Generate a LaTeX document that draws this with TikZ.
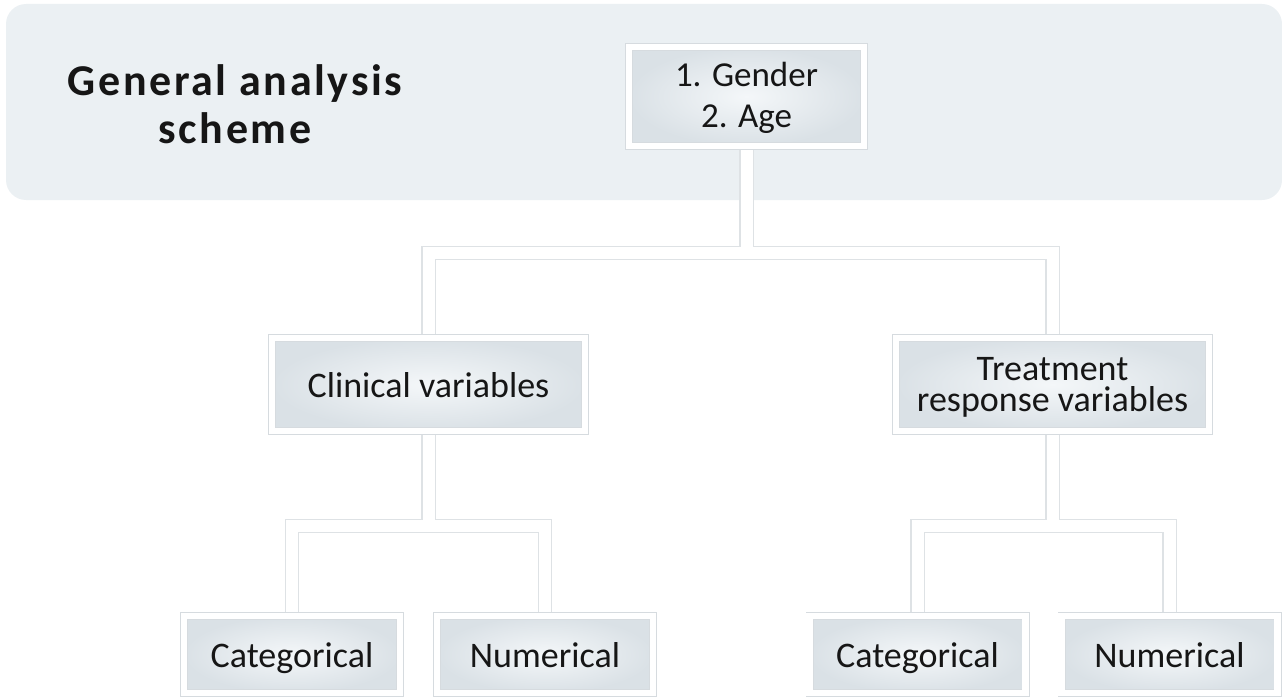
\documentclass[tikz,border=0pt]{standalone}
\usepackage{fontspec}
\setmainfont{Carlito}
\newfontfamily\headfont[LetterSpace=6]{Carlito}
\usetikzlibrary{positioning,backgrounds}
\definecolor{panel}{HTML}{EBF0F3}
\definecolor{tilein}{HTML}{F4F7F9}
\definecolor{tileout}{HTML}{DAE1E6}
\definecolor{rim}{HTML}{D6DBDF}
\definecolor{ink}{HTML}{161616}

\begin{document}
\begin{tikzpicture}[x=1pt,y=-1pt,
  font=\fontsize{36}{31}\selectfont,text=ink,
  tile/.style={draw=rim,line width=0.7pt,double=white,double distance=6.6pt,
               inner color=tilein,outer color=tileout,outer sep=0pt,
               inner sep=0pt,align=center},
  wide/.style={tile,minimum width=313pt,minimum height=93pt},
  leaf/.style={tile,minimum width=216pt,minimum height=77pt,
               text height=32pt,text depth=7pt},
  wire/.style={draw=white,line width=12pt,
               preaction={draw=rim!80,line width=14.5pt}}]

\useasboundingbox (0,0) rectangle (1282,698);

\node[align=center,font=\headfont\bfseries\fontsize{44}{48}\selectfont] (title) at (235,104)
  {General analysis\\scheme};
\node[tile,minimum width=235pt,minimum height=99pt,text height=70pt,text depth=7pt,
      font=\fontsize{35}{41}\selectfont] (top) at (746.5,96.5) {1. Gender\\2. Age};

\node[wide,text height=33pt,text depth=7pt] (clin) at (428.5,384.5) {Clinical variables};
\node[wide,right=311pt of clin,text height=60pt,text depth=7pt] (treat)
  {Treatment\\response variables};

\node[leaf] (cat1) at (292,654.5) {Categorical};
\node[leaf,right=37pt of cat1] (num1) {Numerical};
\node[leaf] (cat2) at (917.5,654.5) {Categorical};
\node[leaf,right=36pt of cat2] (num2) {Numerical};

\begin{scope}[on background layer]
\fill[panel,rounded corners=20pt] (6,4) rectangle (1282,200);
\coordinate (hub) at (746.5,253);
\coordinate (hubL) at (428.5,526);
\coordinate (hubR) at (1052.5,526);
\draw[wire] (top) -- (hub) (clin) |- (hub) -| (treat)
  (clin) -- (hubL) (cat1) |- (hubL) -| (num1)
  (treat) -- (hubR) (cat2) |- (hubR) -| (num2);
\end{scope}
\end{tikzpicture}
\end{document}
